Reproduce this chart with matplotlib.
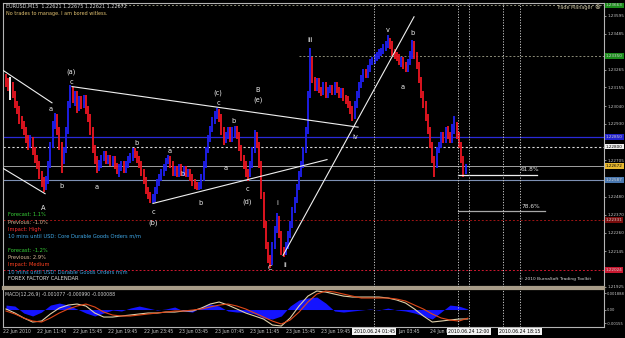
import matplotlib
matplotlib.use('Agg')
import matplotlib.pyplot as plt
import matplotlib.transforms as mtransforms
import numpy as np

plt.rcParams['font.family'] = ['DejaVu Sans']

# EURUSD M15 bars, prices in pips above 1.2200
base = 1.2200
first_open = 121
closes = [119, 115, 115, 111, 105, 102, 95, 92, 89, 84,
          80, 83, 77, 72, 68, 62, 57, 54,
          58, 68, 80, 92, 97,
          89, 80, 71,
          77, 89, 105, 114,
          109, 111, 103, 108, 105, 109, 102, 97,
          89, 78, 71, 66, 68,
          72, 74, 70, 72, 69, 71, 67, 65, 66, 68,
          65, 68, 71, 72, 76, 74,
          71, 68, 63, 58, 52, 49, 46, 47,
          52, 57, 60, 63, 66, 70, 71,
          68, 63, 65, 62, 66, 63, 65,
          62, 63, 60, 57, 55, 54, 55,
          60, 68, 77, 84, 90, 95, 98, 100,
          97, 89, 83, 86, 89, 84, 88,
          90, 86, 78, 72, 68, 63, 62,
          68, 77, 86, 80,
          68, 49, 31, 18, 10, 8,
          18, 28, 34, 25, 15,
          14, 18, 25, 31, 40, 46, 54,
          62, 68, 77, 89, 111, 132,
          120, 115, 119, 114, 113, 117, 111, 114, 115, 113, 117, 114, 111, 113, 109, 108, 105, 102, 98,
          105, 111, 117, 121, 125, 123, 127, 131, 132, 134, 135, 137, 138, 140, 142, 143, 142,
          137, 135, 134, 131, 132, 129, 127, 131, 135, 142,
          135, 129, 120, 111, 105, 97, 89, 80, 71,
          68, 77, 80, 86, 83, 89, 86, 83, 89, 92,
          86, 80, 71, 62, 67]
highs = [124, 121, 122, 119, 113, 107, 104, 98, 95, 91,
         86, 86, 85, 79, 74, 70, 64, 60,
         61, 70, 82, 95, 100,
         99, 91, 82,
         79, 91, 107, 117,
         116, 113, 113, 110, 110, 111, 111, 104,
         99, 91, 80, 73, 71,
         74, 76, 76, 74, 74, 73, 73, 69, 68, 70,
         70, 70, 73, 75, 78, 78,
         76, 73, 70, 65, 60, 54, 51, 50,
         54, 59, 62, 65, 68, 72, 74,
         73, 70, 67, 67, 68, 68, 67,
         67, 65, 65, 62, 59, 57, 57,
         62, 70, 79, 86, 92, 97, 101, 103,
         102, 99, 91, 88, 91, 91, 91,
         92, 92, 88, 80, 74, 70, 65,
         70, 79, 89, 88,
         82, 70, 51, 33, 20, 12,
         20, 30, 38, 36, 27,
         17, 20, 27, 33, 42, 48, 56,
         64, 70, 79, 91, 113, 140,
         134, 122, 121, 121, 116, 119, 119, 116, 117, 117, 119, 119, 116, 115, 115, 111, 110, 107, 104,
         107, 113, 119, 123, 127, 127, 129, 133, 134, 136, 137, 139, 140, 142, 144, 148, 146,
         144, 139, 137, 136, 134, 134, 131, 133, 138, 145,
         144, 137, 131, 122, 113, 107, 99, 91, 82,
         73, 79, 82, 88, 88, 91, 92, 88, 93, 98,
         94, 88, 82, 73, 68]
lows = [116, 113, 108, 109, 103, 99, 93, 90, 86, 81,
        77, 78, 74, 69, 65, 59, 54, 51,
        52, 56, 66, 78, 90,
        86, 77, 63,
        68, 75, 87, 103,
        106, 104, 100, 101, 102, 103, 99, 94,
        86, 75, 68, 63, 64,
        66, 70, 68, 68, 67, 67, 65, 62, 60, 64,
        63, 63, 66, 69, 70, 72,
        69, 66, 61, 56, 50, 47, 44, 44,
        45, 50, 55, 58, 61, 64, 68,
        66, 61, 61, 60, 60, 61, 61,
        60, 60, 58, 55, 53, 52, 52,
        53, 58, 66, 75, 82, 88, 93, 96,
        94, 86, 80, 81, 84, 82, 82,
        85, 84, 76, 70, 65, 60, 58,
        60, 66, 75, 78,
        66, 47, 29, 16, 7, 4,
        6, 16, 26, 23, 12,
        11, 12, 16, 23, 29, 38, 44,
        52, 60, 66, 75, 87, 109,
        118, 113, 113, 112, 110, 111, 109, 109, 112, 111, 111, 112, 109, 109, 107, 105, 103, 99, 95,
        96, 103, 109, 115, 119, 121, 121, 125, 129, 130, 132, 133, 135, 136, 138, 140, 139,
        135, 133, 132, 129, 128, 127, 125, 125, 129, 133,
        133, 127, 118, 109, 103, 95, 87, 78, 69,
        60, 66, 75, 78, 81, 81, 84, 81, 81, 87,
        84, 78, 69, 60, 62]

# MACD(12,26,9), one reading every 4 bars, units of 1e-4
macd_step = 4
macd_main = [0.6, -4.0, -9.7, -14.3, -13.2, -5.1, 1.7, 5.1, 6.3, 4.0,
             -4.0, -8.6, -8.6, -7.4, -6.3, -5.1, -4.0, -4.0, -2.9, -2.9,
             -1.7, -1.7, 1.7, 6.3, 8.6, 5.1, 0.6, -4.0, -7.4, -10.9,
             -17.7, -18.9, -9.7, 4.0, 15.4, 21.2, 20.0, 17.7, 15.4, 14.3,
             14.3, 14.3, 14.3, 13.2, 10.9, 7.4, 0.6, -7.4, -14.3, -13.2,
             -12.0, -10.9, -10.8]
macd_signal = [-1.7, -5.1, -9.7, -13.2, -14.3, -9.7, -4.0, 0.6, 4.0, 6.3,
               2.9, -2.9, -6.3, -7.4, -7.4, -6.3, -5.1, -4.0, -2.9, -1.7,
               -1.7, -0.6, 0.6, 2.9, 5.1, 6.3, 4.0, 0.6, -4.0, -8.6,
               -13.2, -16.6, -12.0, -2.9, 8.6, 17.7, 21.2, 20.0, 17.7, 15.4,
               13.2, 13.2, 13.2, 13.2, 12.0, 9.7, 5.1, 0.6, -5.1, -9.7,
               -12.0, -13.2, -9.9]
macd_hist = [5.1, 4.0, -4.0, -7.4, -2.9, 5.1, 7.4, 5.1, 0.6, -4.0,
             -7.4, -4.0, -0.6, -1.7, 1.7, 4.0, 1.7, -0.6, 0.6, 2.9,
             -1.7, -2.9, 2.9, 6.3, 4.0, -1.7, -2.9, -2.9, -5.1, -9.7,
             -10.9, -7.4, 4.0, 10.9, 13.2, 14.3, 7.4, -1.7, -2.9, -1.7,
             -0.6, 0.6, -0.6, 1.7, -0.6, -1.7, -4.0, -7.4, -10.9, -2.9,
             5.1, 4.0, 0.6]

# horizontal levels (price) and the tag shown on the price scale
levels = [1.23660, 1.23348, 1.22849, 1.22790, 1.22672, 1.22585, 1.22339, 1.22030]
level_tags = ['1.23663', '1.23350', '1.22850', '1.22800', '1.22672', '1.22587', '1.22331', '1.22024']
level_start = [50, 132, None, None, None, None, None, None]

fib_levels = [1.22616, 1.22394]
fib_names = ['61.8%', '78.6%']

price_ticks = [1.23595, 1.23485, 1.23265, 1.23155, 1.23040, 1.22930,
               1.22705, 1.22480, 1.22370, 1.22260, 1.22145, 1.21925]

# elliott wave count: label, bar, pips
wave_labels = [('A', 16.7, 41), ('a', 20.3, 102), ('b', 25.2, 55), ('(a)', 29.3, 125),
               ('c', 29.3, 119), ('a', 41.0, 54), ('b', 59.0, 81), ('c', 66.2, 39),
               ('(b)', 66.2, 32), ('a', 73.9, 76), ('b', 79.3, 62), ('b', 87.8, 44),
               ('(c)', 95.5, 112), ('c', 95.5, 106), ('b', 102.7, 95), ('a', 99.1, 66),
               ('B', 113.5, 114), ('(e)', 113.5, 108), ('c', 108.6, 53), ('(d)', 108.6, 45),
               ('C', 118.9, 4), ('i', 122.1, 44), ('ii', 125.7, 6), ('iii', 136.9, 145),
               ('iv', 157.2, 85), ('v', 172.1, 151), ('a', 178.8, 116), ('b', 183.3, 149)]

# trend lines: (bar, pips) -> (bar, pips)
trend_lines = [((-1.35, 126), (20.7, 106)),
               ((-1.8, 66), (17.6, 50)),
               ((29.7, 116), (158.6, 91)),
               ((66.2, 44), (144.6, 71)),
               ((124.8, 12), (183.8, 159))]

event_bars = [165.8, 203.6, 208.6, 223.9, 231.5]
event_tags = {165.8: '2010.06.24 01:45', 208.6: '2010.06.24 12:00', 231.5: '2010.06.24 18:15'}

# time scale labels as visible (the last two are partly hidden behind the event tags)
date_bars = [-1.2, 14, 30, 46, 62, 78, 94, 110, 126, 142, 176.5, 190.8]
date_labels = ['22 Jun 2010', '22 Jun 11:45', '22 Jun 15:45', '22 Jun 19:45', '22 Jun 23:45',
               '23 Jun 03:45', '23 Jun 07:45', '23 Jun 11:45', '23 Jun 15:45', '23 Jun 19:45',
               'Jun 03:45', '24 Jun 0']

calendar = [('Forecast: 1.1%', '#38d038'), ('Previous: -1.0%', '#d8b898'),
            ('Impact: High', '#ff3030'), ('10 mins until USD: Core Durable Goods Orders m/m', '#3fa8e8'),
            ('', 'white'),
            ('Forecast: -1.2%', '#38d038'), ('Previous: 2.9%', '#d8b898'),
            ('Impact: Medium', '#ff4020'), ('10 mins until USD: Durable Goods Orders m/m', '#3fa8e8'),
            ('FOREX FACTORY CALENDAR', '#e0e0e0')]


def pr(p):
    return base + np.asarray(p) * 1e-4


W, H = 625, 338
fig = plt.figure(figsize=(W / 100, H / 100), dpi=100, facecolor='black')


def box(x0, y0, x1, y1):
    return [x0 / W, 1 - y1 / H, (x1 - x0) / W, (y1 - y0) / H]


ax = fig.add_axes(box(3, 3, 604, 287), facecolor='black')
ax2 = fig.add_axes(box(3, 289, 604, 327), facecolor='black')
xmin, xmax = (3 - 6) / 2.22, (604 - 6) / 2.22
for a in (ax, ax2):
    a.set_xlim(xmin, xmax)
    a.set_xticks([])
    for s in a.spines.values():
        s.set_color('#b4b4b4')
        s.set_linewidth(0.8)
ax.spines['bottom'].set_color('#a89c88')
ax.spines['bottom'].set_linewidth(1.6)
ax2.spines['top'].set_color('#a89c88')
ax2.spines['top'].set_linewidth(1.6)
ax.set_ylim(pr(-7.5), pr(167.5))

# price bars
o = pr([first_open] + closes[:-1])
c = pr(closes)
idx = np.arange(len(closes))
col = np.where(c > o + 1e-9, '#2020f4', np.where(c < o - 1e-9, '#ee1622', '#ffffff'))
ax.vlines(idx, pr(lows), pr(highs), colors=col, lw=1.3, zorder=3)

# horizontal levels
lv_style = [('#8c8c78', (0, (2, 2)), 0.7), ('#8c8c78', (0, (2, 2)), 0.7),
            ('#2a2ad8', '-', 0.9), ('#d8d8d8', (0, (2, 2)), 0.8),
            ('#a0a0a0', '-', 0.7), ('#7d90b4', '-', 0.8),
            ('#a01414', (0, (2, 2)), 0.7), ('#d01830', (0, (2, 2)), 0.7)]
for lv, st, (lc, ls, lw) in zip(levels, level_start, lv_style):
    x0 = xmin if st is None else st
    ax.plot([x0, xmax], [lv, lv], color=lc, ls=ls, lw=lw, zorder=2)

tag_bg = ['#1c8c1c', '#1c8c1c', '#2222cc', '#f0f0f0', '#e8b830', '#4a78b0', '#7a0c0c', '#c81830']
tag_fg = ['#d0d0d0', '#d0d0d0', '#d0d0d0', 'black', 'black', '#d0d0d0', '#d0d0d0', '#d0d0d0']
tr = mtransforms.blended_transform_factory(ax.transAxes, ax.transData)
for lv, t, bg, fg in zip(levels, level_tags, tag_bg, tag_fg):
    ax.text(1.003, lv, t, transform=tr, fontsize=3.0, color=fg, va='center', ha='left',
            bbox=dict(fc=bg, ec='none', pad=0.6), clip_on=False, zorder=6)

# fibonacci lines
fib_end = [239.2, 242.8]
fib_col = ['#f0f0f0', '#a8a8a8']
for fv, name, fe, fc in zip(fib_levels, fib_names, fib_end, fib_col):
    ax.plot([203.6, fe], [fv, fv], color=fc, lw=0.9, zorder=4)
    ax.text(232, fv + 3e-4, name, color='#e0e0e0', fontsize=4.2, ha='left', va='center', zorder=5)

# trend lines and wave labels
for (b0, p0), (b1, p1) in trend_lines:
    ax.plot([b0, b1], [pr(p0), pr(p1)], color='#f0f0f0', lw=0.8, zorder=4)
for s, b, p in wave_labels:
    ax.text(b, pr(p), s, color='#f0f0f0', fontsize=4.8, ha='center', va='center', zorder=5)

# event lines
for eb in event_bars:
    for a in (ax, ax2):
        a.axvline(eb, color='#c8c8c8', ls=(0, (1.2, 1.6)), lw=0.7, zorder=4)

# price scale
ax.yaxis.tick_right()
ax.set_yticks(price_ticks)
ax.set_yticklabels([f'{v:.5f}' for v in price_ticks])
ax.tick_params(axis='y', colors='#c8c8c8', labelsize=3.0, length=1.5, width=0.5, pad=0.8)

# MACD
mb = np.arange(len(macd_main)) * macd_step
ax2.fill_between(mb, 0, np.array(macd_hist) * 1e-4, color='#1414ff', lw=0, zorder=2)
ax2.plot(mb, np.array(macd_main) * 1e-4, color='#e0d0a8', lw=0.8, zorder=3)
ax2.plot(mb, np.array(macd_signal) * 1e-4, color='#e04818', lw=0.8, zorder=3)
ax2.set_ylim(-20.0e-4, 23.5e-4)
ax2.yaxis.tick_right()
ax2.set_yticks([18.88e-4, 0, -15.5e-4])
ax2.set_yticklabels(['0.001888', '0.00', '-0.00155'])
ax2.tick_params(axis='y', colors='#c8c8c8', labelsize=2.7, length=1.5, width=0.5, pad=0.8)
ax2.text(0.003, 0.86, 'MACD(12,26,9) -0.001077 -0.000990 -0.000088', transform=ax2.transAxes,
         color='#d0d0d0', fontsize=3.3, ha='left', va='center')

# time scale
trd = mtransforms.blended_transform_factory(ax2.transData, ax2.transAxes)
for b, s in zip(date_bars, date_labels):
    ax2.text(b, -0.11, s, transform=trd, color='#c8c8c8', fontsize=3.3, ha='left', va='center',
             clip_on=False)
for eb, s in event_tags.items():
    ax2.text(eb, -0.11, s, transform=trd, color='black', fontsize=3.3, ha='center', va='center',
             bbox=dict(fc='#f4f4f4', ec='none', pad=0.8), clip_on=False, zorder=6)

# texts
fig.text(6 / W, 1 - 6 / H, 'EURUSD,M15  1.22621 1.22675 1.22621 1.22672', color='#d8d8d8',
         fontsize=3.5, ha='left', va='center')
fig.text(6 / W, 1 - 14 / H, 'No trades to manage. I am bored witless.', color='#e0c070',
         fontsize=3.5, ha='left', va='center')
fig.text(556 / W, 1 - 7 / H, 'Trade Manager', color='#c8c0a0', fontsize=3.5, ha='left', va='center')
fig.text(597 / W, 1 - 7 / H, '\u2297', color='#c8c0a0', fontsize=5, ha='center', va='center')
for k, (s, cc) in enumerate(calendar):
    fig.text(8 / W, 1 - (215 + k * 7.1) / H, s, color=cc, fontsize=3.7, ha='left', va='center')
fig.text(519 / W, 1 - 279 / H, '\u00a9 2010 BurnaSoft Trading Toolkit', color='#d8d8d8',
         fontsize=3.2, ha='left', va='center')

fig.savefig('out.png', dpi=100, facecolor='black')
